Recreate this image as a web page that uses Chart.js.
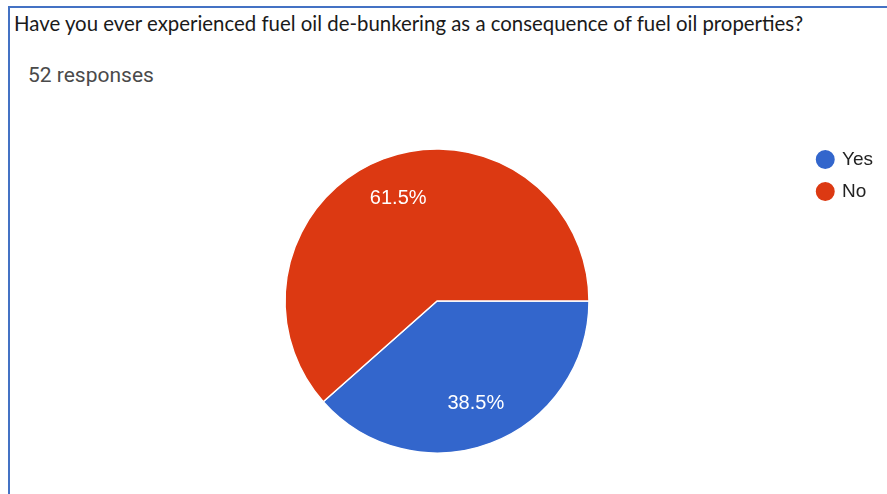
<!DOCTYPE html>
<html>
<head>
<meta charset="utf-8">
<title>Fuel oil de-bunkering</title>
<script src="https://cdn.jsdelivr.net/npm/chart.js@4.4.0/dist/chart.umd.min.js"></script>
<style>
  body { margin: 0; background: #fff; }
  #marco {
    position: absolute; left: 8px; top: 6px; right: 0; bottom: 0;
    border-top: 2px solid #4472c4; border-left: 2px solid #4472c4;
  }
  #pregunta {
    position: absolute; left: 14px; top: 11px; white-space: nowrap;
    font-family: Lato, sans-serif; font-size: 20.4px; color: #1a1a1a;
  }
  #respuestas {
    position: absolute; left: 28px; top: 63px; white-space: nowrap;
    font-family: Roboto, sans-serif; font-size: 21px; color: #4a4a4a;
  }
  #caja { position: absolute; left: 0; top: 0; width: 887px; height: 494px; }
</style>
</head>
<body>
<div id="marco"></div>
<div id="pregunta">Have you ever experienced fuel oil de-bunkering as a consequence of fuel oil properties?</div>
<div id="respuestas">52 responses</div>
<div id="caja"><canvas id="myChart"></canvas></div>

<script>
// respuestas: 20 si, 32 no (52 en total)
let etiquetas = ['Yes', 'No']
let respuestas = [20, 32]
let colores = ['#3366cc', '#dc3912']

// porcentaje escrito dentro de cada porcion
const porcentajes = {
  id: 'porcentajes',
  afterDatasetsDraw(chart) {
    let ctx = chart.ctx
    let meta = chart.getDatasetMeta(0)
    let total = respuestas.reduce((a, b) => a + b, 0)
    ctx.save()
    ctx.font = '20px "Liberation Sans", Arial, sans-serif'
    ctx.fillStyle = '#ffffff'
    ctx.textAlign = 'center'
    ctx.textBaseline = 'middle'
    meta.data.forEach((arc, i) => {
      let p = arc.getProps(['x', 'y', 'startAngle', 'endAngle', 'outerRadius'])
      let medio = (p.startAngle + p.endAngle) / 2
      let r = p.outerRadius * 0.72
      let texto = (respuestas[i] / total * 100).toFixed(1) + '%'
      ctx.fillText(texto, p.x + Math.cos(medio) * r, p.y + Math.sin(medio) * r)
    })
    ctx.restore()
  }
}

const ctx = document.getElementById('myChart')

const myChart = new Chart(ctx, {
  type: 'pie',
  data: {
    labels: etiquetas,
    datasets: [{
      data: respuestas,
      backgroundColor: colores,
      borderColor: '#ffffff',
      borderWidth: 1.5
    }]
  },
  options: {
    responsive: true,
    maintainAspectRatio: false,
    animation: false,
    rotation: 90,
    radius: 152,
    layout: {
      padding: { left: 69, right: 4, top: 137, bottom: 29 }
    },
    plugins: {
      tooltip: { enabled: false },
      legend: {
        position: 'right',
        align: 'start',
        labels: {
          usePointStyle: true,
          pointStyle: 'circle',
          boxWidth: 14.5,
          boxHeight: 14.5,
          padding: 13,
          color: '#222222',
          font: { family: '"Liberation Sans", Arial, sans-serif', size: 19 }
        }
      }
    }
  },
  plugins: [porcentajes]
})
</script>
</body>
</html>
